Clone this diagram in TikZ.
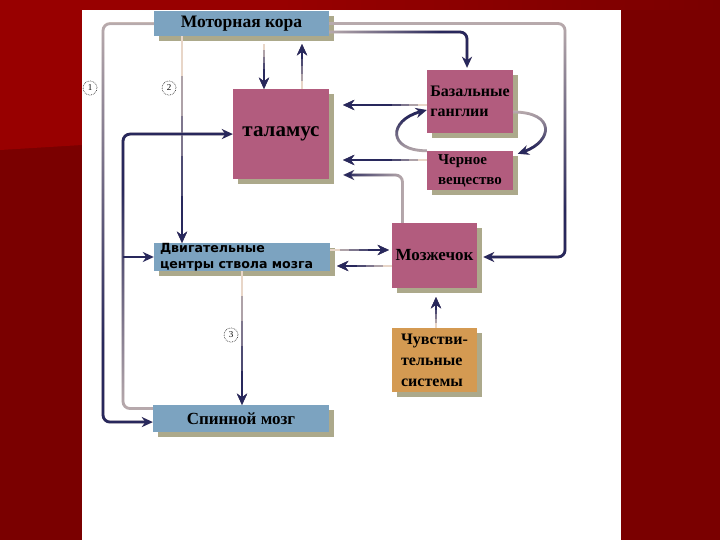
\documentclass[tikz,border=0pt]{standalone}
\usepackage{fontspec}
\setmainfont{Liberation Serif}
\newfontfamily\stemfont{DejaVu Sans}
\usetikzlibrary{arrows.meta,shadows,fadings}
\definecolor{navyline}{RGB}{40,40,92}
\definecolor{paleline}{RGB}{232,214,200}
\definecolor{boxblue}{RGB}{124,163,192}
\definecolor{boxpink}{RGB}{178,92,126}
\definecolor{boxorange}{RGB}{212,154,82}
\definecolor{slidered}{RGB}{122,0,0}
\definecolor{slidered2}{RGB}{152,0,0}
% fadings: the named side is the pale end of the line
\pgfdeclareverticalshading{paleupshade}{100bp}{color(0bp)=(white); color(35bp)=(white); color(88bp)=(black); color(100bp)=(black)}
\pgfdeclareverticalshading{paledownshade}{100bp}{color(0bp)=(black); color(12bp)=(black); color(65bp)=(white); color(100bp)=(white)}
\pgfdeclarehorizontalshading{paleleftshade}{100bp}{color(0bp)=(black); color(12bp)=(black); color(65bp)=(white); color(100bp)=(white)}
\pgfdeclarehorizontalshading{palerightshade}{100bp}{color(0bp)=(white); color(35bp)=(white); color(88bp)=(black); color(100bp)=(black)}
\pgfdeclarefading{paleup}{\pgfuseshading{paleupshade}}
\pgfdeclarefading{paledown}{\pgfuseshading{paledownshade}}
\pgfdeclarefading{paleleft}{\pgfuseshading{paleleftshade}}
\pgfdeclarefading{paleright}{\pgfuseshading{palerightshade}}
% bent line: pale line underneath, dark line fading into it
\newcommand{\fadelink}[3][]{%
  \draw[link,draw=paleline,#1] #3;
  \draw[link,path fading=#2,#1] #3;}
% straight line: darker copies start further along, dark after #2 pt
\newcommand{\steplink}[3][]{%
  \draw[link,draw=paleline,#1] #3;
  \foreach \f/\c in {0.25/30,0.5/55,0.75/80,1/100}
    {\draw[link,draw=navyline!\c!paleline,shorten <=\f*#2pt,#1] #3;}}
\begin{document}
\begin{tikzpicture}[x=1pt,y=-1pt,
    box/.style={inner sep=2pt, text=black, drop shadow={shadow xshift=5pt,shadow yshift=-5pt,fill=black!55!olive!60,opacity=.8}},
    bluebox/.style={box, fill=boxblue},
    pinkbox/.style={box, fill=boxpink},
    orangebox/.style={box, fill=boxorange},
    link/.style={draw=navyline, line width=2.8pt, rounded corners=7pt, -{Stealth[length=11pt,width=10pt,inset=3.5pt]}},
    num/.style={circle, draw=black!75, densely dotted, line width=0.7pt, minimum size=14pt, inner sep=0pt, font=\fontsize{9}{9}\selectfont}]
        \fill[slidered] (0,0) rectangle (720,540);
        \fill[slidered2] (0,0) -- (280,0) -- (280,10) -- (82,10) -- (82,145) -- (0,150) -- cycle;
        \shade[left color=slidered2, right color=slidered] (280,0) rectangle (720,10);
        \fill[white] (82,10) rectangle (621,540);
        \useasboundingbox (0,0) rectangle (720,540);

        \draw (241.5,23.5) node[bluebox,minimum width=175pt,minimum height=25pt,font=\fontsize{17.5}{17}\selectfont\bfseries](cortex){Моторная кора};
        \draw (281,134) node[pinkbox,minimum width=96pt,minimum height=90pt,font=\fontsize{21}{21}\selectfont\bfseries](thal){таламус};
        \draw (470,101.5) node[pinkbox,minimum width=86pt,minimum height=63pt,align=left,font=\fontsize{16}{20}\selectfont\bfseries](basal){Базальные\\ганглии};
        \draw (470,170.5) node[pinkbox,minimum width=86pt,minimum height=39pt,align=left,font=\fontsize{15}{20}\selectfont\bfseries](nigra){Черное\\вещество};
        \draw (434.5,255.5) node[pinkbox,inner xsep=0pt,minimum width=85pt,minimum height=65pt,font=\fontsize{17}{17}\selectfont\bfseries](cereb){Мозжечок};
        \draw (434.5,360) node[orangebox,minimum width=85pt,minimum height=64pt,align=left,font=\fontsize{16}{21}\selectfont\bfseries](sens){Чувстви-\\тельные\\системы};
        \draw (242,257) node[bluebox,minimum height=28pt,text width=164pt,inner xsep=6pt,inner ysep=0pt,align=left,font=\stemfont\fontsize{12.6}{15.5}\selectfont\bfseries](stem){Двигательные\\центры ствола мозга};
        \draw (241,418.5) node[bluebox,minimum width=176pt,minimum height=27pt,font=\fontsize{17}{17}\selectfont\bfseries](spine){Спинной мозг};

        \draw (90,88) node[num](n1){1};
        \draw (169,88) node[num](n2){2};
        \draw (231,335) node[num](n3){3};

        \coordinate (rail1) at (103,200);
        \coordinate (rail2) at (182,0);
        \coordinate (rail3) at (123,300);
        \coordinate (rail4) at (565,150);

        \fadelink{paleup}{(cortex.west) -| (rail1) |- ([yshift=-3.5pt]spine.west)}
        \steplink{160}{(cortex.south -| rail2) -- (stem.north -| rail2)}
        \steplink{100}{(stem.south) -- (stem.south |- spine.north)}
        \fadelink{paledown}{([yshift=10pt]spine.west) -| (rail3) |- (thal.west)}
        \draw[link] (rail3 |- stem.west) -- (stem.west);
        \fadelink[shorten >=6pt]{paleup}{(cortex.east) -| (rail4) |- ([yshift=-1.5pt]cereb.east)}
        \fadelink[shorten >=2pt]{paleleft}{([yshift=-8.5pt]cortex.east) -| ([xshift=-3pt]basal.north)}
        \steplink{25}{([xshift=-17pt,yshift=-8pt]thal.north |- cortex.south) -- ([xshift=-17pt]thal.north)}
        \steplink[shorten >=8pt]{30}{([xshift=21pt]thal.north) -- ([xshift=21pt]thal.north |- cortex.south)}
        \steplink[shorten >=14pt]{35}{([yshift=-3.5pt]basal.west) -- ([yshift=-3.5pt]basal.west -| thal.east)}
        \steplink[shorten >=14pt]{35}{([yshift=10.5pt]nigra.west) -- ([yshift=10.5pt]nigra.west -| thal.east)}
        \fadelink[shorten >=14pt]{paleright}{([xshift=-32pt]cereb.north) |- ([yshift=-41pt]thal.east)}
        \fadelink{paledown}{(nigra.north west) to[out=180,in=195,looseness=2.5] ([yshift=-8.5pt]basal.west)}
        \fadelink[shorten >=5pt]{paleup}{([yshift=-10.5pt]basal.east) to[out=0,in=20,looseness=2.5] ([yshift=15pt]nigra.east)}
        \steplink[shorten >=3pt]{38}{([yshift=7pt]stem.east) -- ([yshift=7pt]stem.east -| cereb.west)}
        \steplink[shorten >=7pt]{35}{([yshift=-10.5pt]cereb.west) -- ([yshift=-10.5pt]cereb.west -| stem.east)}
        \steplink[shorten >=9pt]{18}{([xshift=1.5pt]sens.north) -- ([xshift=1.5pt]cereb.south)}
\end{tikzpicture}
\end{document}
